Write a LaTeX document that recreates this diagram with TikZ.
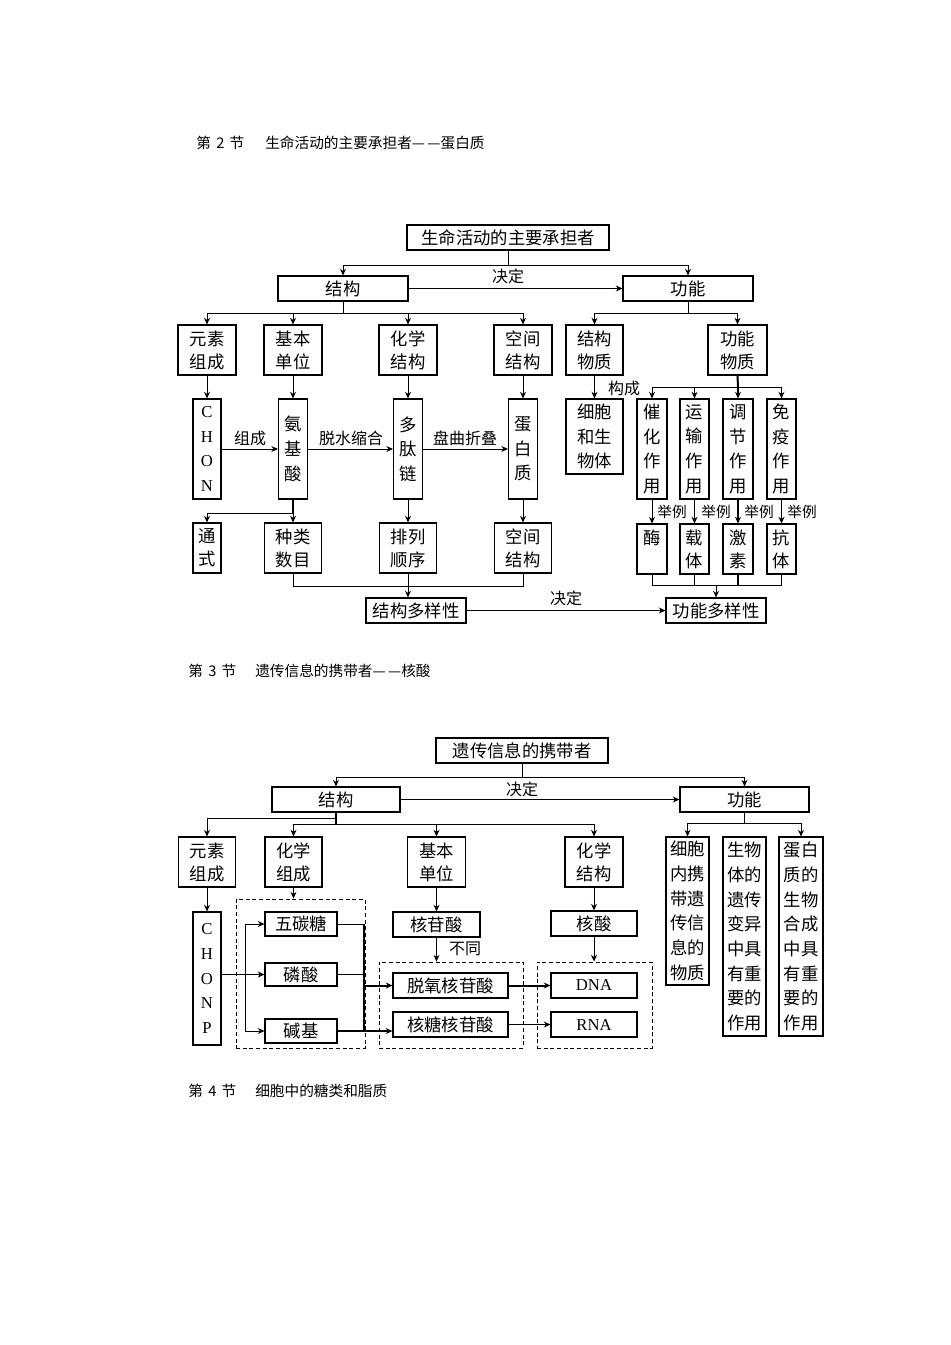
\documentclass[tikz,border=0pt]{standalone}
\usepackage{fontspec}
\setmainfont{Liberation Serif}
\newfontfamily\cjk{Noto Sans CJK SC}
\newfontfamily\latf{Liberation Serif}
\usetikzlibrary{arrows.meta}
\tikzset{
  bx/.style 2 args={draw, line width=0.8pt, inner sep=0pt, minimum width=#1*0.75pt, minimum height=#2*0.75pt, align=center, font=\cjk\fontsize{13}{18.5}\selectfont},
  tw/.style={font=\cjk\fontsize{13}{17.3}\selectfont},
  lt/.style={font=\latf\fontsize{12.5}{18.5}\selectfont},
  dbox/.style 2 args={draw, dashed, dash pattern=on 3pt off 2pt, line width=0.7pt, inner sep=0pt, minimum width=#1*0.75pt, minimum height=#2*0.75pt},
  arr/.style={-{Stealth[length=5pt,width=4.5pt]}, line width=0.7pt},
  ln/.style={line width=0.7pt},
  thk/.style={line width=1.5pt},
  lbl/.style={inner sep=0pt, font=\cjk\fontsize{12}{14}\selectfont},
  sml/.style={inner sep=0pt, font=\cjk\fontsize{11}{13}\selectfont},
  hd/.style={inner sep=0pt, anchor=west, font=\cjk\fontsize{11}{13}\selectfont},
}
\begin{document}
\begin{tikzpicture}[x=0.75pt,y=-0.75pt]
\path[fill=white] (0,0) rectangle (950,1345);
\useasboundingbox (0,0) rectangle (950,1345);

% ---------- headings ----------
\node[hd] (h1a) at (196,143) {第\hspace{4pt}2\hspace{4pt}节};
\node[hd] (h1b) at (265,143) {生命活动的主要承担者—\,—蛋白质};
\node[hd] (h2a) at (188,671) {第\hspace{4pt}3\hspace{4pt}节};
\node[hd] (h2b) at (255,671) {遗传信息的携带者—\,—核酸};
\node[hd] (h3a) at (188,1091) {第\hspace{4pt}4\hspace{4pt}节};
\node[hd] (h3b) at (255,1091) {细胞中的糖类和脂质};

% ---------- diagram 1 : protein ----------
\node[bx={202}{25}] (t1) at (508,237.5) {生命活动的主要承担者};
\node[bx={130}{25}] (jg1) at (343,288.5) {结构};
\node[bx={130}{25}] (gn1) at (688,288.5) {功能};

\node[bx={58}{50},tw] (ys1) at (207,350) {元素\\组成};
\node[bx={58}{50},tw] (jb1) at (293,350) {基本\\单位};
\node[bx={58}{50},tw] (hx1) at (408,350) {化学\\结构};
\node[bx={58}{50},tw] (kj1) at (523,350) {空间\\结构};
\node[bx={57}{50},tw] (jw) at (594.5,350) {结构\\物质};
\node[bx={59}{50},tw] (gw) at (737.5,350) {功能\\物质};

\node[bx={28}{100},lt] (chon) at (207,449) {C\\H\\O\\N};
\node[bx={29}{100}] (ajs) at (293,449) {氨\\基\\酸};
\node[bx={29}{100}] (dtl) at (408,449) {多\\肽\\链};
\node[bx={29}{100}] (dbz) at (523,449) {蛋\\白\\质};
\node[bx={57}{75}] (xb) at (594.5,436.5) {细胞\\和生\\物体};
\node[bx={30}{100}] (ch) at (652,449) {催\\化\\作\\用};
\node[bx={29}{100}] (yx) at (694.5,449) {运\\输\\作\\用};
\node[bx={30}{100}] (tj) at (738,449) {调\\节\\作\\用};
\node[bx={29}{100}] (my) at (781.5,449) {免\\疫\\作\\用};

\node[bx={28}{50},tw] (ts) at (207,548) {通\\式};
\node[bx={57}{50},tw] (zl) at (293,548) {种类\\数目};
\node[bx={57}{50},tw] (pl) at (408,548) {排列\\顺序};
\node[bx={57}{50},tw] (kj2) at (523,548) {空间\\结构};
\node[bx={30}{50},tw,text depth=0pt] (mei) at (652,549) {酶\\\phantom{酶}};
\node[bx={29}{50},tw] (zt) at (694.5,549) {载\\体};
\node[bx={30}{50},tw] (js) at (738,549) {激\\素};
\node[bx={29}{50},tw] (kt) at (781.5,549) {抗\\体};

\node[bx={100}{25}] (jdy) at (416,610.5) {结构多样性};
\node[bx={100}{25}] (gdy) at (716,610.5) {功能多样性};

% labels
\node[lbl] (ld1) at (508,276) {决定};
\node[lbl] (lzc) at (250,438) {组成};
\node[lbl] (ltx) at (351,438) {脱水缩合};
\node[lbl] (lpq) at (465,438) {盘曲折叠};
\node[lbl] (lgc) at (624,388) {构成};
\node[sml] (lj1) at (672,512) {举例};
\node[sml] (lj2) at (716,512) {举例};
\node[sml] (lj3) at (759,512) {举例};
\node[sml] (lj4) at (802,512) {举例};
\node[lbl] (ld2) at (566,598) {决定};

% connectors
\coordinate (a1) at (508,265);
\draw[ln] (t1.south) -- (a1);
\draw[arr] (a1) -| (jg1.north);
\draw[arr] (a1) -| (gn1.north);
\draw[arr,line width=1.2pt] (jg1.east) -- (gn1.west);

\coordinate (a2) at (343,313);
\draw[ln] (jg1.south) -- (a2);
\draw[arr] (a2) -| (ys1.north);
\draw[arr] (a2) -| (jb1.north);
\draw[arr] (a2) -| (hx1.north);
\draw[arr] (a2) -| (kj1.north);

\coordinate (a3) at (688,313);
\draw[ln] (gn1.south) -- (a3);
\draw[arr] (a3) -| (jw.north);
\draw[arr] (a3) -| (gw.north);

\draw[arr] (ys1.south) -- (chon.north);
\draw[arr] (jb1.south) -- (ajs.north);
\draw[arr] (hx1.south) -- (dtl.north);
\draw[arr] (kj1.south) -- (dbz.north);
\draw[arr] (jw.south) -- (xb.north);

\draw[arr] (chon.east) -- (ajs.west);
\draw[arr] (ajs.east) -- (dtl.west);
\draw[arr] (dtl.east) -- (dbz.west);

\coordinate (a4) at (293,513);
\draw[thk] (ajs.south) -- (a4);
\draw[arr] (a4) -| (ts.north);
\draw[arr] (a4) -- (zl.north);
\draw[arr] (dtl.south) -- (pl.north);
\draw[arr] (dbz.south) -- (kj2.north);

\coordinate (a5) at (738,387);
\draw[thk] (gw.south) -- (a5);
\draw[arr] (a5) -| (ch.north);
\draw[arr] (a5) -| (yx.north);
\draw[arr] (a5) -| (my.north);
\draw[arr,line width=1.5pt] (a5) -- (tj.north);

\draw[arr] (ch.south) -- (mei.north);
\draw[arr] (yx.south) -- (zt.north);
\draw[arr,line width=1.5pt] (tj.south) -- (js.north);
\draw[arr] (my.south) -- (kt.north);

\coordinate (a6) at (293,586);
\coordinate (a7) at (523,586);
\draw[ln] (zl.south) -- (a6) -- (a7) -- (kj2.south);
\draw[arr] (pl.south) -- (pl.south |- jdy.north);

\coordinate (a8) at (652,585);
\coordinate (a9) at (781.5,585);
\coordinate (a10) at (716,585);
\draw[ln] (mei.south) -- (a8) -- (a9) -- (kt.south);
\draw[ln] (zt.south) -- (zt.south |- a8);
\draw[thk] (js.south) -- (js.south |- a8);
\draw[arr] (a10) -- (gdy.north);
\draw[arr] (jdy.east) -- (gdy.west);

% ---------- diagram 2 : nucleic acid ----------
\node[bx={172}{25}] (t2) at (522,750.5) {遗传信息的携带者};
\node[bx={128}{25}] (jg2) at (336,799.5) {结构};
\node[bx={129}{25}] (gn2) at (744.5,799.5) {功能};
\node[lbl] (ld3) at (522,789) {决定};

\node[bx={57}{50},tw] (ys2) at (207,862) {元素\\组成};
\node[bx={57}{50},tw] (zc) at (293.5,862) {化学\\组成};
\node[bx={58}{50},tw] (jb2) at (436.5,862) {基本\\单位};
\node[bx={58}{50},tw] (hj2) at (594,862) {化学\\结构};
\node[bx={43}{148}] (xbn) at (687.5,911) {细胞\\内携\\带遗\\传信\\息的\\物质};
\node[bx={43}{199}] (sw) at (744.5,936.5) {生物\\体的\\遗传\\变异\\中具\\有重\\要的\\作用};
\node[bx={44}{199}] (dz) at (801,936.5) {蛋白\\质的\\生物\\合成\\中具\\有重\\要的\\作用};

\node[dbox={129}{149}] (d1) at (300.5,973.5) {};
\node[dbox={144}{86}] (d2) at (451,1005) {};
\node[dbox={115}{86}] (d3) at (594.5,1005) {};

\node[bx={28}{133},lt] (chonp) at (207,978.5) {C\\H\\O\\N\\P};
\node[bx={72}{24}] (wtt) at (301,924) {五碳糖};
\node[bx={72}{23}] (lsu) at (301,974.5) {磷酸};
\node[bx={72}{24}] (jj) at (301,1031) {碱基};
\node[bx={87}{25}] (hgs) at (436.5,924.5) {核苷酸};
\node[bx={115}{25}] (tho) at (450.5,985.5) {脱氧核苷酸};
\node[bx={115}{25}] (hth) at (450.5,1024.5) {核糖核苷酸};
\node[bx={86}{25}] (hs) at (594,923.5) {核酸};
\node[bx={86}{25},lt] (dna) at (594,985.5) {DNA};
\node[bx={86}{25},lt] (rna) at (594,1024.5) {RNA};
\node[lbl] (lbt) at (465,949) {不同};

\coordinate (b1) at (522,777);
\draw[ln] (t2.south) -- (b1);
\draw[arr] (b1) -| (jg2.north);
\draw[arr] (b1) -| (gn2.north);
\draw[arr] (jg2.east) -- (gn2.west);

\coordinate (b2) at (336,818);
\coordinate (b3) at (336,824);
\draw[thk] (jg2.south) -- (b3);
\draw[arr] (b2) -| (ys2.north);
\draw[arr] (b3) -| (zc.north);
\draw[arr] (b3) -| (jb2.north);
\draw[arr] (b3) -| (hj2.north);

\coordinate (b4) at (744.5,823);
\draw[ln] (gn2.south) -- (b4);
\draw[arr] (b4) -| (xbn.north);
\draw[arr] (b4) -| (dz.north);

\draw[arr] (ys2.south) -- (chonp.north);
\draw[arr] (zc.south) -- (zc.south |- d1.north);
\draw[arr] (jb2.south) -- (hgs.north);
\draw[arr] (hj2.south) -- (hs.north);

\coordinate (b5) at (245,974.5);
\draw[arr] (chonp.east |- lsu.west) -- (lsu.west);
\draw[arr] (b5) |- (wtt.west);
\draw[arr] (b5) |- (jj.west);

\coordinate (b6) at (364,924);
\coordinate (b7) at (364,1031);
\draw[ln] (wtt.east) -- (b6);
\draw[thk] (b6) -- (b7);
\draw[ln] (lsu.east) -- (lsu.east -| b6);
\draw[arr,thk] (b6 |- tho.west) -- (tho.west);
\draw[arr,line width=1.1pt] (jj.east) -- (jj.east -| hth.west);

\draw[arr] (hgs.south) -- (hgs.south |- d2.north);
\draw[arr] (hs.south) -- (hs.south |- d3.north);
\draw[arr,thk] (tho.east) -- (dna.west);
\draw[arr,line width=1.1pt] (hth.east |- rna.west) -- (rna.west);
\end{tikzpicture}
\end{document}
